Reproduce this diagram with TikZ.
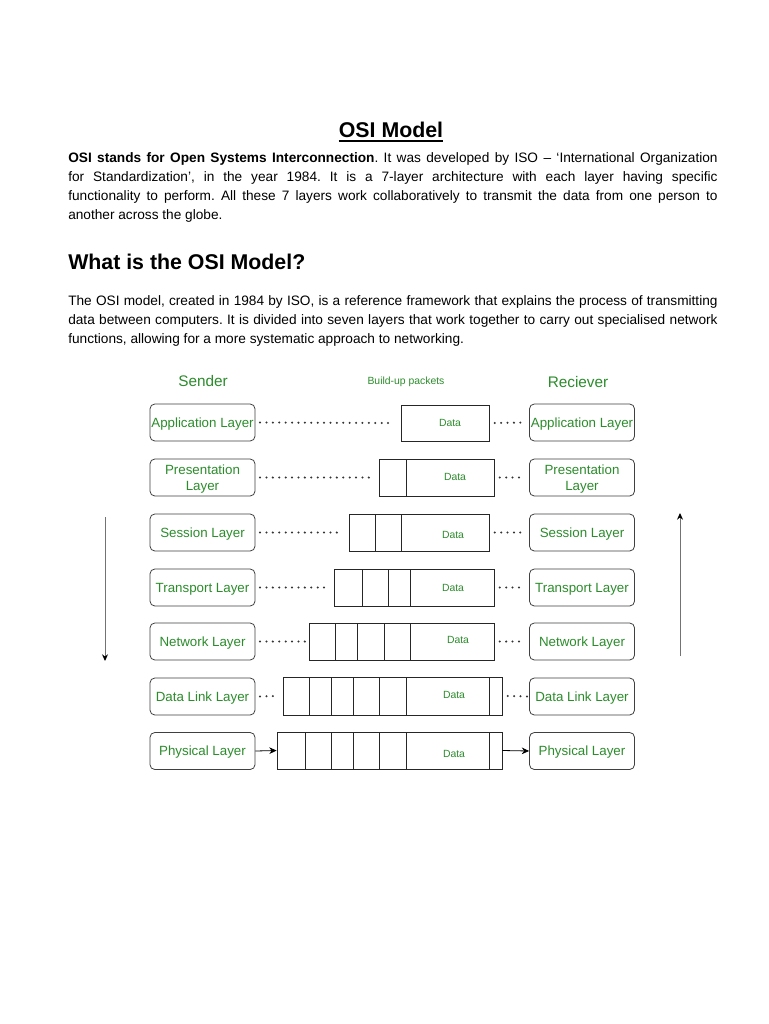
\documentclass[tikz,border=0pt]{standalone}
\usepackage{fontspec}
\setmainfont{Liberation Sans}
\usetikzlibrary{arrows.meta}
\definecolor{lgreen}{RGB}{44,140,44}
\frenchspacing
\begin{document}
\begin{tikzpicture}[x=0.75pt,y=-0.75pt,
  layer/.style={draw=black!75, line width=0.6pt, rounded corners=3.6pt, minimum width=78.75pt, minimum height=27.75pt, inner sep=0pt, text=lgreen, font=\fontsize{10}{11.5}\selectfont, align=center, text depth=0pt},
  packet/.style={draw=black!85, line width=0.6pt, minimum height=#1*0.75pt, inner sep=0pt},
  pw/.style={minimum width=#1*0.75pt},
  divider/.style={draw=black!85, line width=0.6pt},
  datalbl/.style={text=lgreen, font=\fontsize{7.8}{8}\selectfont, inner sep=0pt},
  dotline/.style={draw=black!80, line width=1.7pt, line cap=round, dash pattern=on 0pt off 4.8pt},
  conarrow/.style={draw=black, line width=0.6pt, -{Stealth[length=5.5pt,width=5pt]}},
  flowarrow/.style={draw=black!55, line width=0.7pt, -{Stealth[length=5pt,width=4.5pt,color=black]}},
  para/.style={anchor=north west, inner sep=0pt, text width=487pt, align=justify, font=\fontsize{10.25}{14.3}\selectfont}
]
\useasboundingbox (0,0) rectangle (768,1024);
\fill[white] (0,0) rectangle (768,1024);

% title and text
\node[anchor=base, inner sep=0pt, font=\bfseries\fontsize{16}{19}\selectfont] (title) at (391,137.5) {OSI Model};
\draw[line width=1pt] ([yshift=-2.6pt]title.base west) -- ([yshift=-2.6pt]title.base east);

\node[para] (p1) at (68,152) {\textbf{OSI stands for Open Systems Interconnection}. It was developed by ISO – ‘International Organization\linebreak for Standardization’, in the year 1984. It is a 7-layer architecture with each layer having specific\linebreak functionality to perform. All these 7 layers work collaboratively to transmit the data from one person to\linebreak another across the globe.};

\node[anchor=base west, inner sep=0pt, font=\bfseries\fontsize{16}{19}\selectfont] (h2) at (68,269.5) {What is the OSI Model?};

\node[para] (p2) at (68,295) {The OSI model, created in 1984 by ISO, is a reference framework that explains the process of transmitting\linebreak data between computers. It is divided into seven layers that work together to carry out specialised network\linebreak functions, allowing for a more systematic approach to networking.};

% headers
\node[text=lgreen, font=\fontsize{11.5}{13}\selectfont, inner sep=0pt] (sender) at (203,381) {Sender};
\node[text=lgreen, font=\fontsize{7.8}{9}\selectfont, inner sep=0pt] (build) at (406,382) {Build-up packets};
\node[text=lgreen, font=\fontsize{11.5}{13}\selectfont, inner sep=0pt] (recv) at (578,382) {Reciever};

% layers
\node[layer] (L1) at (202.5,422.5) {Application Layer};
\node[layer] (L2) at (202.5,477.5) {Presentation\\Layer};
\node[layer] (L3) at (202.5,532.5) {Session Layer};
\node[layer] (L4) at (202.5,587.5) {Transport Layer};
\node[layer] (L5) at (202.5,641.5) {Network Layer};
\node[layer] (L6) at (202.5,696.5) {Data Link Layer};
\node[layer] (L7) at (202.5,751) {Physical Layer};

\node[layer] (R1) at (582,422.5) {Application Layer};
\node[layer] (R2) at (582,477.5) {Presentation\\Layer};
\node[layer] (R3) at (582,532.5) {Session Layer};
\node[layer] (R4) at (582,587.5) {Transport Layer};
\node[layer] (R5) at (582,641.5) {Network Layer};
\node[layer] (R6) at (582,696.5) {Data Link Layer};
\node[layer] (R7) at (582,751) {Physical Layer};

% packets
\node[packet=36, pw=88] (P1) at (445,423) {};
\node[packet=37, pw=115] (P2) at (436.5,477.5) {};
\node[packet=37, pw=140] (P3) at (419,532.5) {};
\node[packet=37, pw=160] (P4) at (414,587.5) {};
\node[packet=37, pw=185] (P5) at (401.5,641.5) {};
\node[packet=38, pw=219] (P6) at (392.5,696) {};
\node[packet=37, pw=225] (P7) at (389.5,750.5) {};

\foreach \x in {406} \draw[divider] (\x,459) -- (\x,496);
\foreach \x in {375,401} \draw[divider] (\x,514) -- (\x,551);
\foreach \x in {362,388,410} \draw[divider] (\x,569) -- (\x,606);
\foreach \x in {335,357,384,410} \draw[divider] (\x,623) -- (\x,660);
\foreach \x in {309,331,353,379,406,489} \draw[divider] (\x,677) -- (\x,715);
\foreach \x in {305,331,353,379,406,489} \draw[divider] (\x,732) -- (\x,769);

\node[datalbl] (D1) at (450,423) {Data};
\node[datalbl] (D2) at (455,476.5) {Data};
\node[datalbl] (D3) at (453,534.5) {Data};
\node[datalbl] (D4) at (453,587.5) {Data};
\node[datalbl] (D5) at (458,640) {Data};
\node[datalbl] (D6) at (454,695) {Data};
\node[datalbl] (D7) at (454,754) {Data};

% dotted links
\draw[dotline] ([xshift=3.5pt]L1.east) -- ([xshift=-6pt]P1.west);
\draw[dotline] ([xshift=3.5pt]L2.east) -- ([xshift=-6pt]P2.west);
\draw[dotline] ([xshift=3.5pt]L3.east) -- ([xshift=-5pt]P3.west);
\draw[dotline] ([xshift=3.5pt]L4.east) -- ([xshift=-5pt]P4.west);
\draw[dotline] ([xshift=3.5pt]L5.east) -- ([xshift=-2.5pt]P5.west);
\draw[dotline] ([xshift=3.5pt]L6.east) -- ([xshift=-5pt]P6.west);

\draw[dotline] ([xshift=4pt]P1.east) -- ([xshift=-3pt]R1.west);
\draw[dotline] ([xshift=4pt]P2.east) -- ([xshift=-3pt]R2.west);
\draw[dotline] ([xshift=4pt]P3.east) -- ([xshift=-3pt]R3.west);
\draw[dotline] ([xshift=4pt]P4.east) -- ([xshift=-3pt]R4.west);
\draw[dotline] ([xshift=4pt]P5.east) -- ([xshift=-3pt]R5.west);
\draw[dotline] ([xshift=4pt]P6.east) -- ([xshift=-1pt]R6.west);

% physical arrows
\draw[conarrow] (L7.east) -- (P7.west);
\draw[conarrow] (P7.east) -- (R7.west);

% flow arrows
\coordinate (ldtop) at (105,517);
\coordinate (ldbot) at (105,661);
\coordinate (rutop) at (680,513);
\coordinate (rubot) at (680,656);
\draw[flowarrow] (ldtop) -- (ldbot);
\draw[flowarrow] (rubot) -- (rutop);
\end{tikzpicture}
\end{document}
